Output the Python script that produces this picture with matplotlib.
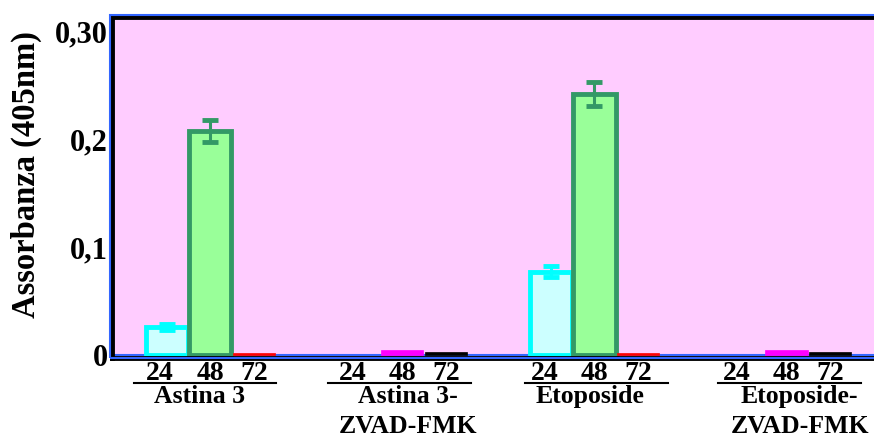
import numpy as np
import matplotlib.pyplot as plt
from matplotlib.patches import Rectangle

plt.rcParams['font.family'] = ['Liberation Serif', 'DejaVu Serif']
plt.rcParams['font.weight'] = 'bold'
plt.rcParams['axes.labelweight'] = 'bold'

# dati
gruppi = ['Astina 3', 'Astina 3-\nZVAD-FMK', 'Etoposide', 'Etoposide-\nZVAD-FMK']
ore = ['24', '48', '72']
valori = [[0.026, 0.208, 0.002],
          [0.001, 0.004, 0.003],
          [0.077, 0.242, 0.002],
          [0.001, 0.004, 0.003]]
errori = [[0.003, 0.010, 0.0],
          [0.0, 0.0, 0.0],
          [0.005, 0.011, 0.0],
          [0.0, 0.0, 0.0]]

# colori (faccia, bordo) per ogni barra
col_trat = [('#CCFFFF', '#00FFFF'), ('#99FF99', '#339966'), ('#FF0000', '#FF0000')]
col_zvad = [('#3366FF', '#3366FF'), ('#FF00FF', '#FF00FF'), ('#000000', '#000000')]

# scostamento orizzontale dei nomi dei gruppi (unita' dati)
sposta_nome = [-0.25, 0.12, -0.1, 0.3]
sposta_linea = [-0.12, -0.07, 0.05, 0.07]

fig = plt.figure(figsize=(8.74, 4.36), dpi=100)
ax = fig.add_axes([0.128, 0.1789, 0.872, 0.782])
ax.set_facecolor('#FFCCFF')

ax.axhline(0, color='#3366FF', lw=1.5, zorder=1)

x0 = 1.26
passo = 4.41
ticks, labels = [], []
trans = ax.get_xaxis_transform()
for g in range(4):
    colori = col_trat if g % 2 == 0 else col_zvad
    for i in range(3):
        x = x0 + passo * g + i
        fc, ec = colori[i]
        lw = 3.5 if g % 2 == 0 and i < 2 else 0.5
        ax.bar(x, valori[g][i], width=0.97, color=fc, edgecolor=ec, linewidth=lw, zorder=2)
        if errori[g][i] > 0:
            ax.errorbar(x, valori[g][i], yerr=errori[g][i], color=ec, capsize=5.5,
                        elinewidth=2.2, capthick=3.5, zorder=3)
        ticks.append(x - 0.15 if i == 0 else x)
        labels.append(ore[i])
    c = x0 + passo * g + 1
    cl = c + sposta_linea[g]
    ax.plot([cl - 1.64, cl + 1.64], [-0.073, -0.073], color='black', lw=1.5,
            transform=trans, clip_on=False)
    ax.text(c + sposta_nome[g], -0.08, gruppi[g], transform=trans, ha='center', va='top',
            fontsize=18.5, linespacing=1.35)

ax.set_xticks(ticks)
ax.set_xticklabels(labels, fontsize=20)
ax.set_xlim(0, 17.5)
ax.set_ylim(-0.003, 0.3136)
ax.set_yticks([0, 0.1, 0.2, 0.3])
ax.set_yticklabels(['0', '0,1', '0,2', '0,30'], fontsize=22)
ax.tick_params(length=0, pad=3)
ax.tick_params(axis='x', pad=2)
ax.set_ylabel('Assorbanza (405nm)', fontsize=23.5)
ax.yaxis.set_label_coords(-0.092, 0.537)

for s in ['left', 'bottom', 'top']:
    ax.spines[s].set_linewidth(3.5)
    ax.spines[s].set_color('black')
ax.spines['right'].set_visible(False)

# bordo blu esterno
fig.patches.append(Rectangle((0.1255, 0.1789), 0.9, 0.7865, transform=fig.transFigure,
                             fill=False, edgecolor='#3366FF', lw=1.5, zorder=0))

fig.savefig('out.png', dpi=100)
